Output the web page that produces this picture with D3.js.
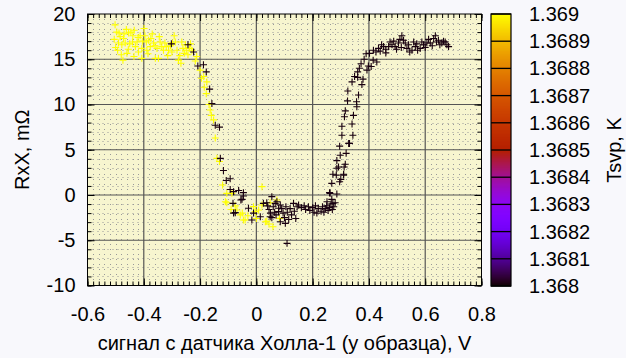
<!DOCTYPE html>
<html>
<head>
<meta charset="utf-8">
<script src="https://cdn.jsdelivr.net/npm/d3@7"></script>
<style>
  html, body { margin: 0; padding: 0; background: #f8f8fc; }
  svg { display: block; font-family: "Liberation Sans", Arial, sans-serif; }
</style>
</head>
<body>
<svg id="chart" width="626" height="358"></svg>
<script>
// Temperature of each sweep (K)
const warmTemp = 1.369;
const coldTemp = 1.36801;

// Warm sweep: [Hall sensor signal (V), RxX (mΩ)]
const warmSweep = [
  [-0.502,18.8],[-0.496,18.0],[-0.484,17.5],[-0.49,16.8],[-0.478,16.6],[-0.493,16.0],[-0.474,14.9],
  [-0.46,15.65],[-0.466,16.8],[-0.454,17.9],[-0.446,18.0],[-0.434,18.2],[-0.439,17.6],[-0.424,16.9],
  [-0.43,16.4],[-0.419,15.8],[-0.407,15.1],[-0.413,17.6],[-0.399,18.4],[-0.391,16.9],[-0.383,17.1],
  [-0.375,17.3],[-0.377,16.4],[-0.365,16.8],[-0.359,15.1],[-0.348,15.1],[-0.353,16.2],[-0.342,16.9],
  [-0.336,16.4],[-0.33,16.0],[-0.32,16.4],[-0.312,16.0],[-0.292,17.6],[-0.288,16.9],[-0.282,16.0],
  [-0.277,14.9],[-0.268,14.55],[-0.261,16.2],[-0.256,15.65],[-0.265,16.9],[-0.249,16.0],[-0.238,16.2],
  [-0.229,16.0],[-0.407,16.2],[-0.389,16.0],[-0.472,17.3],[-0.505,17.2],[-0.488,17.9],[-0.47,17.8],
  [-0.462,18.3],[-0.45,16.7],[-0.44,16.9],[-0.42,17.4],[-0.405,17.0],[-0.396,17.6],[-0.37,17.8],
  [-0.36,16.5],[-0.345,17.5],[-0.325,16.8],[-0.305,16.5],[-0.3,15.8],[-0.298,16.8],[-0.272,15.4],
  [-0.252,16.6],[-0.243,15.5],[-0.234,16.7],[-0.5,16.3],[-0.48,15.5],[-0.455,16.1],[-0.435,15.3],
  [-0.385,15.6],[-0.315,15.4],
  [-0.217,14.8],[-0.212,15.3],[-0.2,13.8],[-0.195,12.9],[-0.187,13.1],[-0.185,11.9],[-0.176,12.5],
  [-0.178,11.2],[-0.168,10.0],[-0.164,9.4],[-0.16,8.8],[-0.152,8.3],[-0.146,6.3],[-0.14,4.05],
  [-0.131,3.7],[-0.12,1.1],[-0.105,0.18],[-0.087,0.18],[-0.11,-0.74],[-0.105,-0.85],[-0.069,-1.66],
  [-0.057,-2.2],[-0.05,-2.0],[-0.046,-2.76],[-0.04,-2.76],[-0.01,-1.29],[-0.004,-1.84],[0.008,-1.66],
  [0.02,0.92],[0.02,-1.1],[0.032,-2.95],[0.037,-2.9],[0.059,-3.5],[0.049,-0.85],[0.073,-0.55],
  [0.082,-2.58],[-0.075,-1.2],[-0.03,-2.3],[0.0,-2.6],[0.045,-3.2],[-0.09,-1.6]
];

// Cold sweep: [Hall sensor signal (V), RxX (mΩ)]
const coldSweep = [
  [-0.302,16.7],[-0.243,16.6],[-0.223,15.8],[-0.208,14.25],[-0.188,14.4],[-0.178,13.6],[-0.166,11.7],
  [-0.158,10.1],[-0.146,7.7],[-0.131,7.5],
  [-0.128,4.05],[-0.117,2.7],[-0.107,1.6],[-0.093,1.8],[-0.093,0.6],[-0.081,0.37],[-0.063,0.5],
  [-0.046,0.26],[-0.055,-0.55],[-0.046,-0.11],[-0.051,-0.48],[-0.083,-0.92],[-0.081,-2.0],[-0.075,-1.95],
  [-0.028,-1.47],[-0.016,-2.76],[-0.01,-2.0],[0.014,-2.4],[0.025,-0.92],[0.037,-0.85],[0.055,-0.18],
  [0.049,-2.4],[0.055,-2.5],[0.067,-0.92],[0.073,-0.74],[0.079,-1.47],[0.085,-1.1],[0.079,-1.84],
  [0.085,-2.95],[0.103,-3.13],[0.109,-5.34],
  [0.04,-1.2],[0.045,-1.6],[0.05,-2.0],[0.06,-1.3],[0.065,-1.9],[0.07,-2.2],[0.09,-1.5],[0.095,-2.0],
  [0.1,-2.5],[0.105,-1.3],[0.11,-1.9],[0.115,-2.7],[0.12,-1.5],[0.125,-2.2],[0.132,-0.92],[0.135,-1.8],
  [0.14,-2.6],[0.145,-1.3],
  [0.15,-1.1],[0.16,-1.4],[0.17,-1.2],[0.175,-1.6],[0.185,-1.3],[0.19,-1.7],[0.2,-1.4],[0.205,-1.9],
  [0.21,-1.2],[0.215,-2.0],[0.22,-1.5],[0.23,-1.8],[0.235,-1.3],[0.24,-1.9],[0.245,-1.5],[0.25,-1.2],
  [0.255,-1.7],[0.26,-1.4],[0.265,-1.0],[0.27,-1.6],[0.275,-1.3],[0.251,-0.74],[0.262,0.18],[0.272,-0.92],
  [0.28,-0.85],[0.286,0.11],[0.26,0.26],[0.268,-0.48],
  [0.268,1.29],[0.296,1.47],[0.284,2.2],[0.3,1.73],[0.31,2.2],[0.292,3.1],[0.312,3.1],[0.286,3.8],
  [0.316,3.4],[0.272,2.3],[0.31,2.3],[0.286,2.95],[0.296,5.4],[0.331,5.7],[0.298,4.4],[0.319,4.6],
  [0.304,6.6],[0.304,7.6],[0.313,8.65],[0.316,9.3],[0.324,10.4],[0.325,11.5],[0.34,12.5],[0.349,13.1],
  [0.36,13.6],[0.366,14.0],[0.372,14.5],[0.383,15.0],[0.39,15.6],[0.402,15.65],[0.328,5.7],[0.343,6.6],
  [0.34,7.85],[0.345,8.8],[0.357,9.75],[0.356,10.3],[0.363,11.05],[0.375,12.2],[0.379,12.8],[0.36,13.0],
  [0.393,13.8],[0.408,14.2],[0.398,14.25],[0.428,14.7],[0.415,14.9],
  [0.416,16.0],[0.434,16.2],[0.452,16.4],[0.47,16.4],[0.482,16.6],[0.493,16.4],[0.505,16.8],[0.517,17.6],
  [0.523,17.1],[0.529,16.8],[0.541,16.6],[0.553,16.0],[0.559,16.9],[0.573,16.0],[0.582,16.2],[0.594,16.6],
  [0.606,16.8],[0.618,16.8],[0.63,17.3],[0.636,17.6],[0.647,17.1],[0.659,16.8],[0.671,16.9],[0.683,16.4],
  [0.425,15.8],[0.44,15.9],[0.445,16.6],[0.46,16.1],[0.475,16.9],[0.488,17.0],[0.498,16.1],[0.51,17.2],
  [0.515,16.3],[0.535,16.2],[0.545,15.8],[0.565,16.4],[0.57,16.7],[0.588,16.9],[0.6,16.3],[0.612,17.2],
  [0.625,16.5],[0.64,16.9],[0.652,16.6],[0.665,17.0],[0.677,16.6],[0.46,15.7]
];

// Axis ticks and labels
const xTicks = [-0.6, -0.4, -0.2, 0, 0.2, 0.4, 0.6, 0.8];
const xTickLabels = ["-0.6", "-0.4", "-0.2", "0", "0.2", "0.4", "0.6", "0.8"];
const yTicks = [-10, -5, 0, 5, 10, 15, 20];
const yTickLabels = ["-10", "-5", "0", "5", "10", "15", "20"];
const cbTicks = [1.368, 1.3681, 1.3682, 1.3683, 1.3684, 1.3685, 1.3686, 1.3687, 1.3688, 1.3689, 1.369];
const cbTickLabels = ["1.368", "1.3681", "1.3682", "1.3683", "1.3684", "1.3685", "1.3686", "1.3687", "1.3688", "1.3689", "1.369"];

const xTitle = "сигнал с датчика Холла-1 (у образца), V";
const yTitle = "RxX, mΩ";
const cbTitle = "Tsvp, K";

// Layout
const plot = { left: 87.5, right: 481.5, top: 14, bottom: 285.5 };
const bar = { left: 491, right: 511, top: 14, bottom: 286 };
const fontSize = 20;

const svg = d3.select("#chart");

const x = d3.scaleLinear().domain([-0.6, 0.8]).range([plot.left, plot.right]);
const y = d3.scaleLinear().domain([-10, 20]).range([plot.bottom, plot.top]);
const cb = d3.scaleLinear().domain([1.368, 1.369]).range([bar.bottom, bar.top]);

// rgbformulae 7,5,15 palette: black - purple - red - orange - yellow
function palette(t) {
  const clamp = v => Math.max(0, Math.min(1, v));
  const r = clamp(Math.sqrt(t));
  const g = clamp(t * t * t);
  const b = clamp(Math.sin(2 * Math.PI * t));
  return d3.rgb(r * 255, g * 255, b * 255).toString();
}
const colorOf = T => palette((T - cb.domain()[0]) / (cb.domain()[1] - cb.domain()[0]));

// Plot background
svg.append("rect")
  .attr("x", plot.left).attr("y", plot.top)
  .attr("width", plot.right - plot.left).attr("height", plot.bottom - plot.top)
  .attr("fill", "#f7f5cf");

// Minor grid (dotted)
const xMinor = d3.range(-0.6, 0.8001, 0.02).map(v => +v.toFixed(3));
const yMinor = d3.range(-10, 20.001, 1);
const grid = svg.append("g");
grid.selectAll("line.xm").data(xMinor.filter(v => !xTicks.some(t => Math.abs(t - v) < 1e-6)))
  .join("line").attr("class", "xm")
  .attr("x1", d => Math.round(x(d)) + 0.5).attr("x2", d => Math.round(x(d)) + 0.5)
  .attr("y1", plot.top).attr("y2", plot.bottom)
  .attr("stroke", "#999").attr("stroke-width", 1).attr("stroke-dasharray", "1,4");
grid.selectAll("line.ym").data(yMinor.filter(v => !yTicks.includes(v)))
  .join("line").attr("class", "ym")
  .attr("x1", plot.left).attr("x2", plot.right)
  .attr("y1", d => Math.round(y(d)) + 0.5).attr("y2", d => Math.round(y(d)) + 0.5)
  .attr("stroke", "#999").attr("stroke-width", 1).attr("stroke-dasharray", "1,4");

// Major grid (solid)
grid.selectAll("line.xM").data(xTicks.slice(1, -1))
  .join("line").attr("class", "xM")
  .attr("x1", d => x(d)).attr("x2", d => x(d))
  .attr("y1", plot.top).attr("y2", plot.bottom)
  .attr("stroke", "#555").attr("stroke-width", 1.2);
grid.selectAll("line.yM").data(yTicks.slice(1, -1))
  .join("line").attr("class", "yM")
  .attr("x1", plot.left).attr("x2", plot.right)
  .attr("y1", d => y(d)).attr("y2", d => y(d))
  .attr("stroke", "#555").attr("stroke-width", 1.2);

// Data points as '+' markers
const plus = "M-3.5,0H3.5M0,-3.5V3.5";
const series = [
  { temp: warmTemp, points: warmSweep },
  { temp: coldTemp, points: coldSweep }
];
const marks = svg.append("g");
series.forEach(s => {
  marks.append("g").selectAll("path").data(s.points).join("path")
    .attr("transform", d => `translate(${x(d[0])},${y(d[1])})`)
    .attr("d", plus)
    .attr("fill", "none")
    .attr("stroke", colorOf(s.temp))
    .attr("stroke-width", 1.1);
});

// Axes: major ticks (labelled) and minor ticks, mirrored on all sides
function styleAxis(g) {
  g.select(".domain").remove();
  g.selectAll(".tick line").attr("stroke", "#000").attr("stroke-width", 1);
  g.selectAll(".tick text").attr("fill", "#000").attr("font-size", fontSize)
    .attr("font-family", '"Liberation Sans", Arial, sans-serif');
}
svg.append("g").attr("transform", `translate(0,${plot.bottom})`)
  .call(d3.axisBottom(x).tickValues(xTicks).tickSize(-7).tickPadding(21)
    .tickFormat((d, i) => xTickLabels[i]))
  .call(styleAxis);
svg.append("g").attr("transform", `translate(0,${plot.bottom})`)
  .call(d3.axisBottom(x).tickValues(xMinor).tickSize(-4).tickFormat(""))
  .call(styleAxis);
svg.append("g").attr("transform", `translate(0,${plot.top})`)
  .call(d3.axisTop(x).tickValues(xTicks).tickSize(-7).tickFormat(""))
  .call(styleAxis);
svg.append("g").attr("transform", `translate(0,${plot.top})`)
  .call(d3.axisTop(x).tickValues(xMinor).tickSize(-4).tickFormat(""))
  .call(styleAxis);
svg.append("g").attr("transform", `translate(${plot.left},0)`)
  .call(d3.axisLeft(y).tickValues(yTicks).tickSize(-7).tickPadding(12)
    .tickFormat((d, i) => yTickLabels[i]))
  .call(styleAxis);
svg.append("g").attr("transform", `translate(${plot.left},0)`)
  .call(d3.axisLeft(y).tickValues(yMinor).tickSize(-4).tickFormat(""))
  .call(styleAxis);
svg.append("g").attr("transform", `translate(${plot.right},0)`)
  .call(d3.axisRight(y).tickValues(yTicks).tickSize(-7).tickFormat(""))
  .call(styleAxis);
svg.append("g").attr("transform", `translate(${plot.right},0)`)
  .call(d3.axisRight(y).tickValues(yMinor).tickSize(-4).tickFormat(""))
  .call(styleAxis);

// Plot border
svg.append("rect")
  .attr("x", plot.left).attr("y", plot.top)
  .attr("width", plot.right - plot.left).attr("height", plot.bottom - plot.top)
  .attr("fill", "none").attr("stroke", "#000").attr("stroke-width", 1);

// Colour bar
const steps = 272;
const cbStops = d3.range(steps).map(i => cb.domain()[0] + (i + 0.5) / steps * (cb.domain()[1] - cb.domain()[0]));
const stepH = (bar.bottom - bar.top) / steps;
svg.append("g").selectAll("rect").data(cbStops).join("rect")
  .attr("x", bar.left).attr("width", bar.right - bar.left)
  .attr("y", d => cb(d) - stepH / 2 - 0.3).attr("height", stepH + 0.6)
  .attr("fill", d => colorOf(d));
svg.append("g").selectAll("line").data(cbTicks).join("line")
  .attr("x1", bar.left).attr("x2", bar.right)
  .attr("y1", d => cb(d)).attr("y2", d => cb(d))
  .attr("stroke", "#000").attr("stroke-width", 1.3);
svg.append("rect")
  .attr("x", bar.left).attr("y", bar.top)
  .attr("width", bar.right - bar.left).attr("height", bar.bottom - bar.top)
  .attr("fill", "none").attr("stroke", "#000").attr("stroke-width", 1.2);
svg.append("g").attr("transform", `translate(${bar.right},0)`)
  .call(d3.axisRight(cb).tickValues(cbTicks).tickSize(0).tickPadding(18)
    .tickFormat((d, i) => cbTickLabels[i]))
  .call(styleAxis);

// Titles
svg.append("text")
  .attr("x", (plot.left + plot.right) / 2).attr("y", 350)
  .attr("text-anchor", "middle").attr("font-size", fontSize).attr("fill", "#000")
  .text(xTitle);
svg.append("text")
  .attr("transform", `translate(29,${(plot.top + plot.bottom) / 2}) rotate(-90)`)
  .attr("text-anchor", "middle").attr("font-size", fontSize).attr("fill", "#000")
  .text(yTitle);
svg.append("text")
  .attr("transform", `translate(621,${(bar.top + bar.bottom) / 2}) rotate(-90)`)
  .attr("text-anchor", "middle").attr("font-size", fontSize).attr("fill", "#000")
  .text(cbTitle);
</script>
</body>
</html>
